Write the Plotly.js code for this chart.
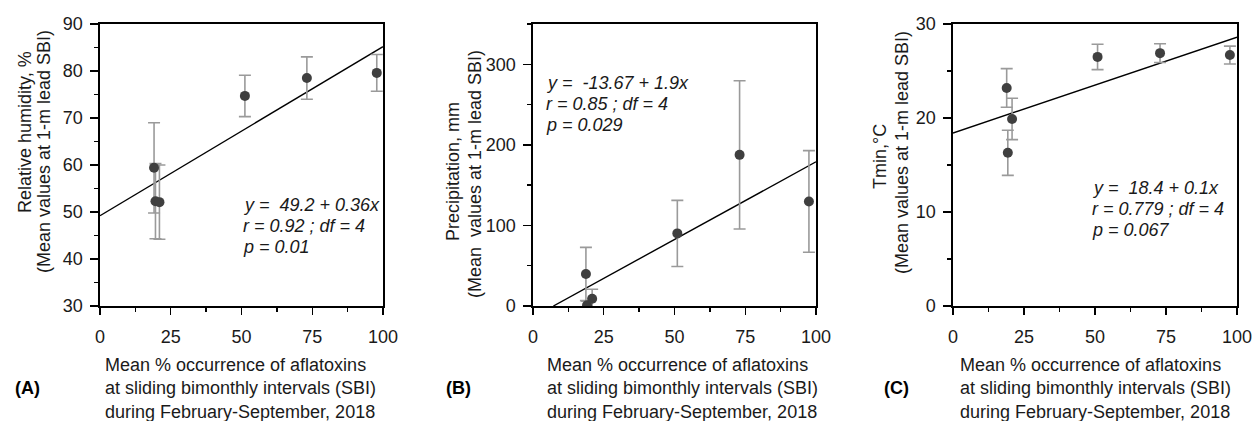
<!DOCTYPE html>
<html>
<head>
<meta charset="utf-8">
<script src="https://cdn.plot.ly/plotly-3.0.1.min.js"></script>
<style>html,body{margin:0;padding:0;background:#fff;}#chart{width:1253px;height:421px;}</style>
</head>
<body>
<div id="chart"></div>
<script>
// ---- Data ----
// Panel A: Relative humidity
const rhX   = [19.1, 19.6, 21.0, 51.2, 73.1, 97.8];
const rhY   = [59.4, 52.3, 52.1, 74.7, 78.5, 79.6];
const rhErr = [9.6, 8.0, 7.9, 4.4, 4.5, 3.9];
const rhLineX = [0, 100];
const rhLineY = [49.2, 85.2];
// Panel B: Precipitation
const prX   = [18.7, 19.1, 20.9, 51.0, 73.0, 97.5];
const prY   = [39.7, 1.0, 9.0, 90.1, 187.6, 129.8];
const prErr = [33.0, 5.0, 11.7, 41.0, 92.0, 63.0];
const prLineX = [7.2, 100];
const prLineY = [0, 179];
// Panel C: Tmin
const tnX   = [18.9, 19.3, 20.8, 50.9, 72.9, 97.5];
const tnY   = [23.2, 16.3, 19.9, 26.5, 26.9, 26.7];
const tnErr = [2.05, 2.4, 2.2, 1.35, 1.0, 0.95];
const tnLineX = [0, 100];
const tnLineY = [18.4, 28.6];

const xTickVals = [0, 25, 50, 75, 100];
const eqA = ["y =  49.2 + 0.36x", "r = 0.92 ; df = 4", "p = 0.01"];
const eqB = ["y =  -13.67 + 1.9x", "r = 0.85 ; df = 4", "p = 0.029"];
const eqC = ["y =  18.4 + 0.1x", "r = 0.779 ; df = 4", "p = 0.067"];
const yTitlesA = ["Relative humidity, %", "(Mean values at 1-m lead SBI)"];
const yTitlesB = ["Precipitation, mm", "(Mean  values at 1-m lead SBI)"];
const yTitlesC = ["Tmin,°C", "(Mean values at 1-m lead SBI)"];
const xTitle = "Mean % occurrence of aflatoxins<br>at sliding bimonthly intervals (SBI)<br>during February-September, 2018";
const panelLabels = ["(A)", "(B)", "(C)"];

// ---- Styling ----
const FONT = "Liberation Sans, Arial, sans-serif";
const W = 1253, H = 421;
const markerColor = "#3f3f3f";
const errColor = "#9a9a9a";

function pts(x, y, e, xa, ya) {
  return {
    type: "scatter", mode: "markers", x: x, y: y, xaxis: xa, yaxis: ya,
    marker: {color: markerColor, size: 10},
    error_y: {type: "data", array: e, visible: true, color: errColor, thickness: 1.6, width: 6},
    showlegend: false, hoverinfo: "skip"
  };
}
function line(x, y, xa, ya) {
  return {
    type: "scatter", mode: "lines", x: x, y: y, xaxis: xa, yaxis: ya,
    line: {color: "#000", width: 1.4}, showlegend: false, hoverinfo: "skip"
  };
}

const data = [
  line(rhLineX, rhLineY, "x", "y"),
  pts(rhX, rhY, rhErr, "x", "y"),
  line(prLineX, prLineY, "x2", "y2"),
  pts(prX, prY, prErr, "x2", "y2"),
  line(tnLineX, tnLineY, "x3", "y3"),
  pts(tnX, tnY, tnErr, "x3", "y3")
];

const px2x = p => p / W;
const py2y = p => 1 - p / H;

function xaxis(dom, anchor) {
  return {
    domain: dom, anchor: anchor, range: [0, 100], tickvals: xTickVals,
    ticks: "outside", ticklen: 7, tickwidth: 1.3, tickcolor: "#000",
    minor: {dtick: 12.5, ticks: "outside", ticklen: 4, tickwidth: 1.3, tickcolor: "#000"},
    showline: true, linecolor: "#000", linewidth: 1.6, mirror: true,
    showgrid: false, zeroline: false, ticklabelstandoff: 7,
    tickfont: {family: FONT, size: 18, color: "#1a1a1a"}
  };
}
function yaxis(range, dtick, minorDtick, anchor) {
  return {
    domain: [py2y(306), py2y(24)], anchor: anchor, range: range, dtick: dtick, tick0: 0,
    ticks: "outside", ticklen: 8, tickwidth: 1.3, tickcolor: "#000",
    minor: {dtick: minorDtick, ticks: "outside", ticklen: 4, tickwidth: 1.3, tickcolor: "#000"},
    showline: true, linecolor: "#000", linewidth: 1.6, mirror: true,
    showgrid: false, zeroline: false, ticklabelstandoff: 4,
    tickfont: {family: FONT, size: 18, color: "#1a1a1a"}
  };
}

const annotations = [];
function addEq(lines, x0, ys) {
  lines.forEach((t, i) => annotations.push({
    text: t, xref: "paper", yref: "paper", x: px2x(x0), y: py2y(ys[i]),
    xanchor: "left", yanchor: "middle", showarrow: false,
    font: {family: FONT, size: 18, color: "#1a1a1a", style: "italic"}
  }));
}
addEq(eqA, 241, [205, 226, 247]);
addEq(eqB, 544, [83, 104, 125]);
addEq(eqC, 1090, [188, 209, 230]);

function addYTitle(lines, xs, ys) {
  lines.forEach((t, i) => annotations.push({
    text: t, xref: "paper", yref: "paper", x: px2x(xs[i]), y: py2y(ys[i]),
    xanchor: "center", yanchor: "middle", textangle: -90, showarrow: false,
    font: {family: FONT, size: 18, color: "#1a1a1a"}
  }));
}
addYTitle(yTitlesA, [25, 44], [132, 152]);
addYTitle(yTitlesB, [453, 475], [172, 174]);
addYTitle(yTitlesC, [880, 902], [157, 152]);

[103, 545, 958].forEach(xp => annotations.push({
  text: xTitle, xref: "paper", yref: "paper", x: px2x(xp), y: py2y(388),
  xanchor: "left", yanchor: "middle", align: "left", showarrow: false,
  font: {family: FONT, size: 18, color: "#1a1a1a"}
}));
[27, 458, 896].forEach((xp, i) => annotations.push({
  text: "<b>" + panelLabels[i] + "</b>", xref: "paper", yref: "paper", x: px2x(xp), y: py2y(388),
  xanchor: "center", yanchor: "middle", showarrow: false,
  font: {family: FONT, size: 18, color: "#000"}
}));

const layout = {
  width: W, height: H, margin: {l: 0, r: 0, t: 0, b: 0},
  paper_bgcolor: "#fff", plot_bgcolor: "#fff",
  showlegend: false,
  xaxis: xaxis([px2x(100), px2x(383)], "y"),
  yaxis: yaxis([30, 90], 10, 5, "x"),
  xaxis2: xaxis([px2x(533), px2x(816)], "y2"),
  yaxis2: yaxis([0, 350], 100, 50, "x2"),
  xaxis3: xaxis([px2x(953), px2x(1237)], "y3"),
  yaxis3: yaxis([0, 30], 10, 5, "x3"),
  annotations: annotations
};

Plotly.newPlot("chart", data, layout, {staticPlot: true, displayModeBar: false});
</script>
</body>
</html>
